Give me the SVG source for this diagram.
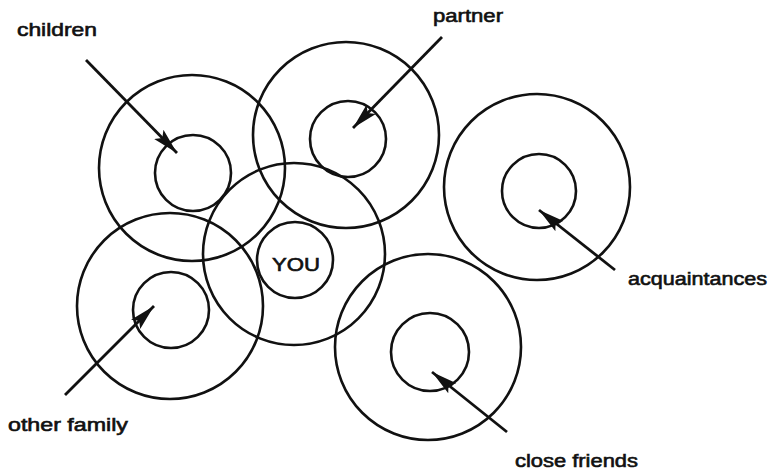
<svg xmlns="http://www.w3.org/2000/svg" width="771" height="472" viewBox="0 0 771 472">
<defs>
<style>
.c{fill:none;stroke:#111;stroke-width:2.6}
.a{fill:none;stroke:#111;stroke-width:2.8;marker-end:url(#ah)}
.t{font-family:"Liberation Sans",Arial,sans-serif;font-size:18px;fill:#111;stroke:#111;stroke-width:0.6}
</style>
<marker id="ah" markerUnits="userSpaceOnUse" markerWidth="30" markerHeight="16" refX="26" refY="7" orient="auto" viewBox="0 0 30 14">
<path d="M0,0.5 L26,7 L0,13.5 L5,7 z" fill="#111"/>
</marker>
</defs>
<rect width="771" height="472" fill="#fff"/>
<g id="children">
<circle class="c" cx="192" cy="168" r="93"/>
<circle class="c" cx="193" cy="173" r="38"/>
<text class="t" x="17" y="36" textLength="80" lengthAdjust="spacingAndGlyphs">children</text>
</g>
<g id="partner">
<circle class="c" cx="346" cy="135" r="93"/>
<circle class="c" cx="348" cy="139" r="38"/>
<text class="t" x="433" y="22" textLength="70" lengthAdjust="spacingAndGlyphs">partner</text>
</g>
<g id="acquaintances">
<circle class="c" cx="537" cy="187" r="93"/>
<circle class="c" cx="539" cy="191" r="37"/>
<text class="t" x="628" y="285" textLength="139" lengthAdjust="spacingAndGlyphs">acquaintances</text>
</g>
<g id="other-family">
<circle class="c" cx="170" cy="306" r="93"/>
<circle class="c" cx="171" cy="310" r="38"/>
<text class="t" x="8" y="431" textLength="120" lengthAdjust="spacingAndGlyphs">other family</text>
</g>
<g id="you">
<circle class="c" cx="294" cy="254" r="91"/>
<circle class="c" cx="295" cy="260" r="38"/>
<text class="t" x="272" y="271" textLength="48" lengthAdjust="spacingAndGlyphs">YOU</text>
</g>
<g id="close-friends">
<circle class="c" cx="428" cy="347" r="93"/>
<circle class="c" cx="430" cy="352" r="39"/>
<text class="t" x="515" y="467" textLength="123" lengthAdjust="spacingAndGlyphs">close friends</text>
</g>
<g id="connectors">
<line class="a" x1="86" y1="60" x2="177" y2="153"/>
<line class="a" x1="442" y1="37" x2="353" y2="128"/>
<line class="a" x1="615" y1="270" x2="539" y2="210"/>
<line class="a" x1="65" y1="395" x2="154" y2="306"/>
<line class="a" x1="507" y1="432" x2="432" y2="372"/>
</g>
</svg>
